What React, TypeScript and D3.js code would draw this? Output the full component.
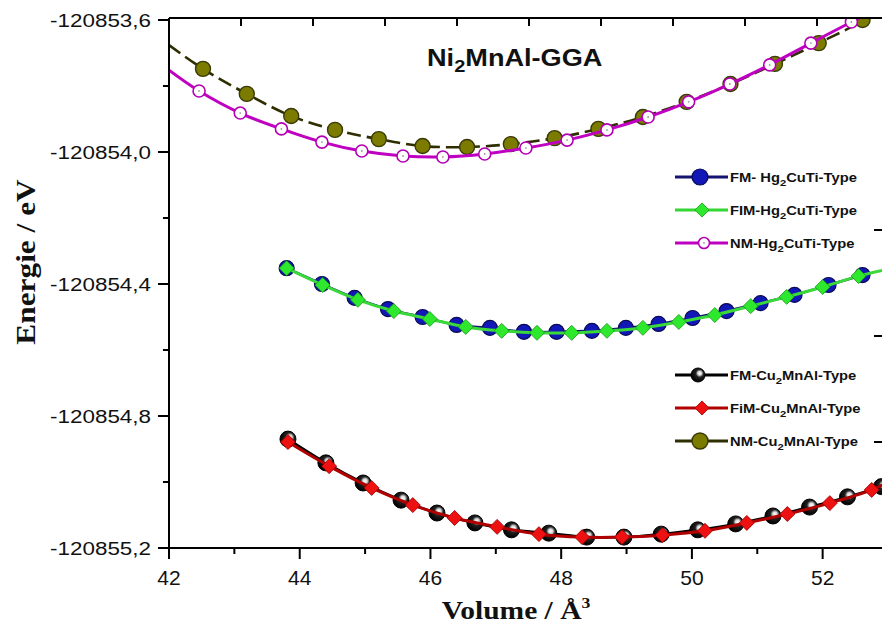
import React from "react"
import * as d3 from "d3"

// volumes (Å^3) and total energies (eV)
const fmHgVol = [43.80, 44.34, 44.84, 45.35, 45.88, 46.40, 46.91, 47.43, 47.93, 48.47, 48.99, 49.49, 50.01, 50.53, 51.05, 51.57, 52.09, 52.61]
const fmHgE = [-120854.352, -120854.400, -120854.442, -120854.476, -120854.500, -120854.524, -120854.533, -120854.545, -120854.545, -120854.542, -120854.533, -120854.521, -120854.503, -120854.482, -120854.458, -120854.433, -120854.403, -120854.373]

const fimHgVol = [43.80, 44.35, 44.89, 45.44, 45.99, 46.54, 47.09, 47.63, 48.16, 48.70, 49.25, 49.80, 50.35, 50.90, 51.45, 52.00, 52.55]
const fimHgE = [-120854.352, -120854.403, -120854.448, -120854.482, -120854.506, -120854.530, -120854.542, -120854.548, -120854.548, -120854.542, -120854.533, -120854.515, -120854.494, -120854.467, -120854.439, -120854.409, -120854.376]

const nmHgVol = [42.46, 43.09, 43.72, 44.34, 44.95, 45.58, 46.19, 46.83, 47.46, 48.09, 48.70, 49.33, 49.95, 50.58, 51.19, 51.82, 52.44]
const nmHgE = [-120853.815, -120853.882, -120853.930, -120853.970, -120853.997, -120854.012, -120854.015, -120854.006, -120853.988, -120853.964, -120853.933, -120853.894, -120853.848, -120853.794, -120853.736, -120853.670, -120853.606]

const fmCuVol = [43.82, 44.40, 44.97, 45.55, 46.10, 46.68, 47.24, 47.81, 48.39, 48.96, 49.53, 50.09, 50.67, 51.24, 51.80, 52.38, 52.90]
const fmCuE = [-120854.870, -120854.942, -120855.003, -120855.055, -120855.094, -120855.124, -120855.145, -120855.155, -120855.167, -120855.167, -120855.158, -120855.145, -120855.127, -120855.103, -120855.076, -120855.045, -120855.014]

const fimCuVol = [43.82, 44.45, 45.10, 45.73, 46.37, 47.02, 47.66, 48.32, 48.93, 49.55, 50.20, 50.84, 51.46, 52.11, 52.75]
const fimCuE = [-120854.879, -120854.952, -120855.018, -120855.070, -120855.109, -120855.136, -120855.158, -120855.167, -120855.167, -120855.161, -120855.148, -120855.124, -120855.097, -120855.064, -120855.024]

const nmCuVol = [42.52, 43.19, 43.87, 44.54, 45.21, 45.88, 46.56, 47.23, 47.90, 48.57, 49.25, 49.92, 50.59, 51.27, 51.94, 52.61]
const nmCuE = [-120853.748, -120853.824, -120853.891, -120853.933, -120853.961, -120853.982, -120853.985, -120853.976, -120853.958, -120853.930, -120853.894, -120853.848, -120853.794, -120853.733, -120853.670, -120853.600]

// where the fitted curves meet the frame
const nmHgEdgeVol = [42.0, 53.0]
const nmHgEdgeE = [-120853.752, -120853.55]
const nmCuEdgeVol = [42.0, 53.0]
const nmCuEdgeE = [-120853.676, -120853.53]
const fimHgEdgeVol = [53.0]
const fimHgEdgeE = [-120854.355]
const fimCuEdgeVol = [53.0]
const fimCuEdgeE = [-120855.0]

const xMajor = [42, 44, 46, 48, 50, 52]
const xMinor = [43, 45, 47, 49, 51, 53]
const yMajor = [-120853.6, -120854.0, -120854.4, -120854.8, -120855.2]
const yMinor = [-120853.8, -120854.2, -120854.6, -120855.0]
const topTicks = [43, 44, 45, 46, 47, 48, 49, 50, 51, 52, 53]
const rightTicks = [-120854.0, -120854.2, -120854.4]

const W = 882
const H = 639
const L = 169
const R = 888
const T = 20
const B = 548

const x = d3.scaleLinear().domain([42, 53]).range([L, R])
const y = d3.scaleLinear().domain([-120855.2, -120853.6]).range([B, T])
const xTop = d3.scaleLinear().domain([42, 53]).range([L, L + 72 * 11])
const yRight = d3.scaleLinear().domain([-120854.4, -120854.0]).range([442, 230])

const zip = (a: number[], b: number[]) => a.map((v, i) => [v, b[i]] as [number, number])

const curve = d3.line<[number, number]>()
  .x(d => x(d[0]))
  .y(d => y(d[1]))
  .curve(d3.curveCatmullRom.alpha(0.5))

const sans = "'Liberation Sans', Arial, sans-serif"
const serif = "'Liberation Serif', 'Times New Roman', serif"
const diamond = d3.symbol().type(d3.symbolSquare).size(112)()
const diamondSmall = d3.symbol().type(d3.symbolSquare).size(100)()

// comma decimal, plain hyphen as in the figure
const fmtY = (v: number) => d3.format(".1f")(v).replace(".", ",").replace("\u2212", "-")

function Circle({ cx, cy, kind, r }: { cx: number, cy: number, kind: string, r?: number }) {
  if (kind === "blue")
    return <circle cx={cx} cy={cy} r={r || 7.5} fill="#1218b8" stroke="#0a0a55" strokeWidth={1.2} />
  if (kind === "olive")
    return <circle cx={cx} cy={cy} r={r || 7.5} fill="#7b7b00" stroke="#3a3a08" strokeWidth={1.4} />
  if (kind === "ball")
    return <circle cx={cx} cy={cy} r={r || 8} fill="url(#ball)" stroke="#000" strokeWidth={1} />
  return (
    <g>
      <circle cx={cx} cy={cy} r={r || 6} fill="#fff" stroke="#b400b4" strokeWidth={1.6} />
      <circle cx={cx} cy={cy} r={0.9} fill="#999" />
    </g>
  )
}

function Diamond({ cx, cy, fill, stroke, small }: { cx: number, cy: number, fill: string, stroke: string, small?: boolean }) {
  return <path d={small ? diamondSmall : diamond} transform={`translate(${cx},${cy}) rotate(45)`} fill={fill} stroke={stroke} strokeWidth={0.8} />
}

function Label({ x0, y0, children, size, anchor }: { x0: number, y0: number, children: any, size: number, anchor?: string }) {
  return (
    <text transform={`translate(${x0},${y0}) scale(1.18,1)`} fontFamily={sans} fontWeight="bold" fontSize={size} textAnchor={anchor || "start"} fill="#111">
      {children}
    </text>
  )
}

const legendHg = [
  { name: ["FM- Hg", "CuTi-Type"], line: "#141470", mark: "blue" },
  { name: ["FIM-Hg", "CuTi-Type"], line: "#33d633", mark: "green" },
  { name: ["NM-Hg", "CuTi-Type"], line: "#c000c0", mark: "hollow" },
]
const legendCu = [
  { name: ["FM-Cu", "MnAl-Type"], line: "#000", mark: "ball" },
  { name: ["FiM-Cu", "MnAl-Type"], line: "#b00000", mark: "red" },
  { name: ["NM-Cu", "MnAl-Type"], line: "#2e2e00", mark: "olive" },
]

function Legend({ items, top }: { items: typeof legendHg, top: number }) {
  return (
    <g>
      {items.map((it, i) => {
        const cy = top + i * 33
        return (
          <g key={i}>
            <line x1={675} x2={728} y1={cy} y2={cy} stroke={it.line} strokeWidth={3} />
            {it.mark === "green" && <Diamond cx={702} cy={cy} fill="#2ee82e" stroke="#1a9a1a" small />}
            {it.mark === "red" && <Diamond cx={702} cy={cy} fill="#ee1111" stroke="#900" small />}
            {(it.mark === "blue" || it.mark === "olive") && <Circle cx={700} cy={cy} kind={it.mark} r={8} />}
            {it.mark === "ball" && <Circle cx={698} cy={cy} kind="ball" r={7} />}
            {it.mark === "hollow" && <Circle cx={704} cy={cy} kind="hollow" r={5.5} />}
            <Label x0={730} y0={cy + 4.5} size={12.5}>
              {it.name[0]}
              <tspan fontSize={9.5} dy={4}>2</tspan>
              <tspan dy={-4}>{it.name[1]}</tspan>
            </Label>
          </g>
        )
      })}
    </g>
  )
}

export default function App() {
  const fmHg = zip(fmHgVol, fmHgE)
  const fimHg = zip(fimHgVol, fimHgE)
  const nmHg = zip(nmHgVol, nmHgE)
  const fmCu = zip(fmCuVol, fmCuE)
  const fimCu = zip(fimCuVol, fimCuE)
  const nmCu = zip(nmCuVol, nmCuE)

  const nmHgEdge = zip(nmHgEdgeVol, nmHgEdgeE)
  const nmCuEdge = zip(nmCuEdgeVol, nmCuEdgeE)
  const fimHgEdge = zip(fimHgEdgeVol, fimHgEdgeE)
  const fimCuEdge = zip(fimCuEdgeVol, fimCuEdgeE)

  return (
    <svg width={W} height={H} style={{ position: "absolute", left: 0, top: 0, background: "#fff" }}>
      <defs>
        <clipPath id="plot">
          <rect x={L} y={T - 2} width={R - L} height={B - T + 2} />
        </clipPath>
        <radialGradient id="ball" cx="0.62" cy="0.38" r="0.62">
          <stop offset="0%" stopColor="#ffffff" />
          <stop offset="22%" stopColor="#d8d8d8" />
          <stop offset="45%" stopColor="#222" />
          <stop offset="100%" stopColor="#000" />
        </radialGradient>
      </defs>
      <rect width={W} height={H} fill="#fff" />

      <g clipPath="url(#plot)">
        {/* Hg2CuTi, magnetic */}
        <path d={curve(fmHg) || ""} fill="none" stroke="#141470" strokeWidth={2.5} />
        {fmHg.map((d, i) => <Circle key={i} cx={x(d[0])} cy={y(d[1])} kind="blue" />)}
        <path d={curve([...fimHg, ...fimHgEdge]) || ""} fill="none" stroke="#3ad83a" strokeWidth={3} />
        {fimHg.map((d, i) => <Diamond key={i} cx={x(d[0])} cy={y(d[1])} fill="#2ee82e" stroke="#1a9a1a" />)}

        {/* Cu2MnAl, magnetic */}
        <path d={curve(fmCu) || ""} fill="none" stroke="#000" strokeWidth={2.5} />
        {fmCu.map((d, i) => <Circle key={i} cx={x(d[0])} cy={y(d[1])} kind="ball" />)}
        <path d={curve([...fimCu, ...fimCuEdge]) || ""} fill="none" stroke="#b00000" strokeWidth={3} />
        {fimCu.map((d, i) => <Diamond key={i} cx={x(d[0])} cy={y(d[1])} fill="#ee1111" stroke="#900" />)}

        {/* non magnetic */}
        <path d={curve([nmCuEdge[0], ...nmCu, nmCuEdge[1]]) || ""} fill="none" stroke="#2e2e00" strokeWidth={2.6} strokeDasharray="14,6" />
        {nmCu.map((d, i) => <Circle key={i} cx={x(d[0])} cy={y(d[1])} kind="olive" />)}
        <path d={curve([nmHgEdge[0], ...nmHg, nmHgEdge[1]]) || ""} fill="none" stroke="#c000c0" strokeWidth={3} />
        {nmHg.map((d, i) => <Circle key={i} cx={x(d[0])} cy={y(d[1])} kind="hollow" />)}
      </g>

      {/* frame */}
      <g stroke="#000" strokeWidth={2} fill="none">
        <line x1={L} x2={L} y1={T - 2} y2={B} />
        <line x1={L} x2={R} y1={B} y2={B} />
        <line x1={L} x2={R} y1={T - 2} y2={T - 2} />
        <line x1={R - 4} x2={R - 4} y1={T - 2} y2={B} />
        {yMajor.map(v => <line key={v} x1={L - 11} x2={L} y1={y(v)} y2={y(v)} />)}
        {yMinor.map(v => <line key={v} x1={L - 6} x2={L} y1={y(v)} y2={y(v)} />)}
        {xMajor.map(v => <line key={v} x1={x(v)} x2={x(v)} y1={B} y2={B + 11} />)}
        {xMinor.map(v => <line key={v} x1={x(v)} x2={x(v)} y1={B} y2={B + 6} />)}
        {topTicks.map(v => <line key={v} x1={xTop(v)} x2={xTop(v)} y1={T - 2} y2={T + 6} />)}
        {rightTicks.map(v => <line key={v} x1={R - 14} x2={R - 4} y1={yRight(v)} y2={yRight(v)} />)}
      </g>

      {/* tick labels */}
      {yMajor.map(v => (
        <text key={v} transform={`translate(151,${y(v) + 7}) scale(1.18,1)`} fontFamily={sans} fontSize={19} textAnchor="end" fill="#111">
          {fmtY(v)}
        </text>
      ))}
      {xMajor.map(v => (
        <text key={v} x={x(v)} y={585} fontFamily={sans} fontSize={21} textAnchor="middle" fill="#111">{v}</text>
      ))}

      {/* axis titles */}
      <text transform="translate(516,619) scale(1.18,1)" fontFamily={serif} fontWeight="bold" fontSize={25} textAnchor="middle" fill="#111">
        Volume / Å<tspan fontSize={15} dy={-11}>3</tspan>
      </text>
      <text transform="translate(35,262) rotate(-90) scale(1.12,1)" fontFamily={serif} fontWeight="bold" fontSize={28} textAnchor="middle" fill="#111">
        Energie / eV
      </text>

      {/* title */}
      <Label x0={427} y0={66} size={23}>
        Ni<tspan fontSize={17} dy={6}>2</tspan><tspan dy={-6}>MnAl-GGA</tspan>
      </Label>

      <Legend items={legendHg} top={177} />
      <Legend items={legendCu} top={375} />
    </svg>
  )
}
